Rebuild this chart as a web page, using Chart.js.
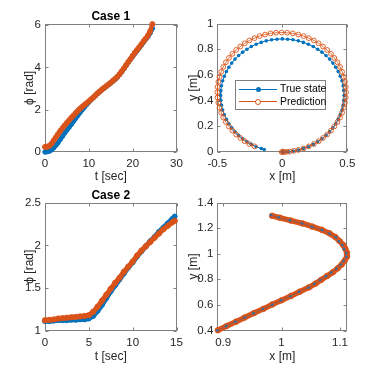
<!DOCTYPE html>
<html><head><meta charset="utf-8">
<script src="https://cdn.jsdelivr.net/npm/chart.js@4.4.1/dist/chart.umd.min.js"></script>
<style>
html,body{margin:0;padding:0;background:#fff;}
#wrap{position:relative;width:383px;height:371px;overflow:hidden;background:#fff;}
#wrap canvas{position:absolute;left:0;top:0;}
#legend{position:absolute;left:235px;top:80px;width:89px;height:28px;border:1px solid #808080;background:#fff;font-family:'Liberation Sans',Arial,sans-serif;font-size:10.4px;color:#000;z-index:5;}
.row{position:absolute;left:0;height:12px;width:89px;}
.ln{position:absolute;left:3px;width:38px;top:5.5px;height:1px;}
.mk{position:absolute;box-sizing:border-box;border-radius:50%;}
.tx{position:absolute;left:44px;top:0;line-height:12px;white-space:nowrap;}
</style></head>
<body>
<div id="wrap">
<canvas id="c1" width="383" height="371"></canvas>
<canvas id="c2" width="383" height="371"></canvas>
<canvas id="c3" width="383" height="371"></canvas>
<canvas id="c4" width="383" height="371"></canvas>
<div id="legend">
  <div class="row" style="top:2.3px"><div class="ln" style="background:#0072BD"></div><div class="mk" style="left:19.5px;top:3.5px;width:5px;height:5px;background:#0072BD"></div><div class="tx" id="lg1"></div></div>
  <div class="row" style="top:14.7px"><div class="ln" style="background:#D95319"></div><div class="mk" style="left:19px;top:3px;width:6px;height:6px;border:1px solid #D95319;background:#fff"></div><div class="tx" id="lg2"></div></div>
</div>
</div>
<script>
// ---------- data ----------
const seriesNames = ['True state', 'Prediction'];
const titles = ['Case 1', 'Case 2'];

// Case 1: heading vs time
const t1 = [0,0.5,1,1.5,2,2.5,3,3.5,4,4.5,5,5.5,6,6.5,7,7.5,8,8.5,9,9.5,10,10.5,11,11.5,12,12.5,13,13.5,14,14.5,15,15.5,16,16.5,17,17.5,18,18.5,19,19.5,20,20.5,21,21.5,22,22.5,23,23.5,24,24.5];
const phiTrue1 = [0.00,0.01,0.04,0.10,0.20,0.32,0.45,0.60,0.75,0.90,1.04,1.17,1.31,1.45,1.59,1.73,1.87,2.00,2.12,2.24,2.35,2.46,2.56,2.66,2.76,2.85,2.94,3.02,3.10,3.18,3.26,3.35,3.44,3.54,3.66,3.80,3.94,4.09,4.24,4.38,4.52,4.66,4.79,4.92,5.06,5.20,5.33,5.47,5.63,5.85];
const phiPred1 = [0.24,0.25,0.29,0.40,0.55,0.70,0.85,1.00,1.13,1.26,1.38,1.50,1.62,1.73,1.84,1.95,2.05,2.14,2.23,2.31,2.40,2.49,2.58,2.68,2.78,2.87,2.96,3.04,3.12,3.20,3.28,3.37,3.46,3.56,3.68,3.82,3.96,4.11,4.26,4.40,4.55,4.70,4.83,4.96,5.10,5.24,5.37,5.52,5.72,6.05];

// Case 1: x-y path
const xTrue1 = [0,0.008,0.025,0.050,0.082,0.123,0.162,0.201,0.238,0.272,0.305,0.336,0.364,0.389,0.411,0.430,0.446,0.459,0.468,0.473,0.475,0.473,0.468,0.459,0.446,0.430,0.411,0.389,0.364,0.336,0.305,0.272,0.238,0.201,0.162,0.123,0.082,0.041,0,-0.041,-0.082,-0.123,-0.162,-0.201,-0.238,-0.272,-0.305,-0.336,-0.364,-0.389,-0.411,-0.430,-0.446,-0.459,-0.468,-0.473,-0.475,-0.473,-0.468,-0.459,-0.446,-0.430,-0.411,-0.389,-0.364,-0.336,-0.305,-0.272,-0.238,-0.201,-0.162,-0.139];
const yTrue1 = [0,0.000,0.001,0.002,0.007,0.015,0.027,0.041,0.059,0.080,0.103,0.129,0.157,0.188,0.220,0.254,0.290,0.326,0.364,0.402,0.440,0.478,0.516,0.554,0.590,0.626,0.660,0.692,0.723,0.751,0.777,0.800,0.821,0.839,0.853,0.865,0.873,0.878,0.880,0.878,0.873,0.865,0.853,0.839,0.821,0.800,0.777,0.751,0.723,0.692,0.660,0.626,0.590,0.554,0.516,0.478,0.440,0.402,0.364,0.326,0.290,0.254,0.220,0.188,0.157,0.129,0.103,0.080,0.059,0.041,0.027,0.019];
const xPred1 = [-0.005,0.004,0.012,0.030,0.055,0.089,0.123,0.164,0.204,0.243,0.279,0.313,0.345,0.374,0.400,0.424,0.444,0.460,0.473,0.482,0.488,0.490,0.488,0.482,0.473,0.460,0.444,0.424,0.400,0.374,0.345,0.313,0.279,0.243,0.204,0.164,0.123,0.081,0.038,-0.005,-0.048,-0.091,-0.133,-0.174,-0.214,-0.253,-0.289,-0.323,-0.355,-0.384,-0.410,-0.434,-0.454,-0.470,-0.483,-0.492,-0.498,-0.500,-0.498,-0.492,-0.483,-0.470,-0.454,-0.434,-0.410,-0.384,-0.355,-0.323,-0.289,-0.253,-0.214];
const yPred1 = [0,0.000,0.000,0.001,0.003,0.009,0.016,0.028,0.044,0.062,0.084,0.109,0.136,0.166,0.198,0.233,0.268,0.306,0.345,0.384,0.424,0.465,0.506,0.546,0.585,0.624,0.662,0.698,0.732,0.764,0.794,0.821,0.846,0.868,0.886,0.902,0.914,0.923,0.928,0.930,0.928,0.923,0.914,0.902,0.886,0.868,0.846,0.821,0.794,0.764,0.732,0.698,0.662,0.624,0.585,0.546,0.506,0.465,0.424,0.384,0.345,0.306,0.268,0.233,0.198,0.166,0.136,0.109,0.084,0.062,0.044];

// Case 2: heading vs time
const t2 = [0,0.5,1,1.5,2,2.5,3,3.5,4,4.5,5,5.5,6,6.5,7,7.5,8,8.5,9,9.5,10,10.5,11,11.5,12,12.5,13,13.5,14,14.5,14.8];
const phiTrue2 = [1.11,1.11,1.115,1.12,1.12,1.12,1.125,1.125,1.13,1.13,1.14,1.17,1.23,1.30,1.38,1.46,1.53,1.60,1.67,1.74,1.80,1.87,1.93,1.99,2.05,2.10,2.16,2.21,2.26,2.31,2.34];
const phiPred2 = [1.12,1.125,1.13,1.14,1.145,1.15,1.155,1.16,1.165,1.17,1.18,1.22,1.28,1.35,1.42,1.49,1.56,1.62,1.69,1.75,1.81,1.88,1.94,1.99,2.04,2.09,2.14,2.19,2.23,2.27,2.29];

// Case 2: x-y path
const xTrue2 = [0.890,0.905,0.921,0.937,0.952,0.968,0.984,0.999,1.015,1.030,1.046,1.056,1.066,1.076,1.085,1.094,1.101,1.106,1.111,1.111,1.107,1.104,1.098,1.093,1.082,1.069,1.052,1.035,1.014,0.995,0.982];
const yTrue2 = [0.400,0.434,0.467,0.501,0.534,0.568,0.601,0.635,0.668,0.702,0.735,0.764,0.794,0.823,0.853,0.883,0.913,0.943,0.974,1.005,1.036,1.067,1.097,1.128,1.157,1.185,1.210,1.236,1.260,1.284,1.300];
const xPred2 = [0.891,0.906,0.922,0.937,0.953,0.969,0.984,1.000,1.016,1.031,1.047,1.058,1.068,1.078,1.088,1.096,1.103,1.108,1.112,1.112,1.109,1.105,1.099,1.092,1.082,1.069,1.053,1.036,1.016,0.997,0.984];
const yPred2 = [0.402,0.435,0.469,0.502,0.536,0.569,0.603,0.636,0.670,0.703,0.737,0.766,0.796,0.826,0.856,0.886,0.916,0.946,0.977,1.008,1.039,1.070,1.100,1.130,1.159,1.186,1.211,1.236,1.259,1.281,1.296];

// tick labels
const xTicksA = [0,10,20,30],  yTicksA = [0,2,4,6];
const xTicksB = [-0.5,0,0.5],  yTicksB = [0,0.2,0.4,0.6,0.8,1];
const xTicksC = [0,5,10,15],   yTicksC = [1,1.5,2,2.5];
const xTicksD = [0.9,1,1.1],   yTicksD = [0.4,0.6,0.8,1,1.2,1.4];

// ---------- rendering ----------
const BLUE = '#0072BD', ORANGE = '#D95319';
const FONT = "'Liberation Sans', Arial, Helvetica, sans-serif";
const AXC = '#262626', BOXC = '#808080';
document.getElementById('lg1').textContent = seriesNames[0];
document.getElementById('lg2').textContent = seriesNames[1];
const pts = (xs, ys) => xs.map((x, i) => ({x: x, y: ys[i]}));
const fmt = v => String(+Number(v).toFixed(4));

const boxPlugin = {
  id: 'matlabBox',
  beforeDatasetsDraw(chart) {
    const ctx = chart.ctx, a = chart.chartArea;
    const L = Math.round(a.left) + 0.5, R = Math.round(a.right) - 0.5;
    const T = Math.round(a.top) + 0.5, B = Math.round(a.bottom) - 0.5;
    ctx.save();
    ctx.strokeStyle = BOXC; ctx.lineWidth = 1;
    ctx.strokeRect(L, T, R - L, B - T);
    const tl = 3;
    ctx.beginPath();
    chart.scales.x.ticks.forEach(tk => {
      const p = Math.round(chart.scales.x.getPixelForValue(tk.value)) + 0.5;
      ctx.moveTo(p, B); ctx.lineTo(p, B - tl);
      ctx.moveTo(p, T); ctx.lineTo(p, T + tl);
    });
    chart.scales.y.ticks.forEach(tk => {
      const p = Math.round(chart.scales.y.getPixelForValue(tk.value)) + 0.5;
      ctx.moveTo(L, p); ctx.lineTo(L + tl, p);
      ctx.moveTo(R, p); ctx.lineTo(R - tl, p);
    });
    ctx.stroke();
    ctx.restore();
  }
};

function makeChart(id, o) {
  return new Chart(document.getElementById(id), {
    type: 'scatter',
    data: { datasets: o.datasets },
    plugins: [boxPlugin],
    options: {
      responsive: false, animation: false, events: [],
      devicePixelRatio: 1,
      layout: { padding: o.pad },
      plugins: {
        legend: { display: false },
        tooltip: { enabled: false },
        title: o.title ? {
          display: true, text: o.title, color: '#000', fullSize: false,
          font: { family: FONT, size: 12, weight: 'bold', lineHeight: 1.2 },
          padding: o.titlePad
        } : { display: false }
      },
      scales: {
        x: {
          type: 'linear', min: o.xMin, max: o.xMax,
          afterBuildTicks: s => { s.ticks = o.xTicks.map(v => ({value: v})); },
          afterFit: s => { s.height = o.xH; },
          grid: { display: false, drawTicks: false, tickLength: 0 }, border: { display: false },
          ticks: { font: { family: FONT, size: 11.5 }, color: AXC, padding: 5, maxRotation: 0, autoSkip: false, callback: v => fmt(v) },
          title: { display: true, text: o.xLabel, color: AXC, font: { family: FONT, size: 12, lineHeight: 1.2 }, padding: { top: 0, bottom: o.xTitlePad } }
        },
        y: {
          type: 'linear', min: o.yMin, max: o.yMax,
          afterBuildTicks: s => { s.ticks = o.yTicks.map(v => ({value: v})); },
          afterFit: s => { s.width = o.yW; },
          grid: { display: false, drawTicks: false, tickLength: 0 }, border: { display: false },
          ticks: { font: { family: FONT, size: 11.5 }, color: AXC, padding: 4, autoSkip: false, callback: v => fmt(v) },
          title: { display: true, text: o.yLabel, color: AXC, font: { family: FONT, size: 12, lineHeight: 1.2 }, padding: { top: o.yTitlePad, bottom: 0 } }
        }
      }
    }
  });
}

const band = (data, color, order, w, r, hollow) => ({
  data: data, showLine: true, order: order, clip: false,
  borderColor: color, borderWidth: w, borderCapStyle: 'round', borderJoinStyle: 'round',
  pointRadius: r, pointBorderWidth: 1, pointBorderColor: color,
  pointBackgroundColor: hollow ? 'rgba(255,255,255,0)' : color
});

// top-left: Case 1 heading
makeChart('c1', {
  title: titles[0], titlePad: { top: 9.2, bottom: 0.1 },
  pad: { left: 0, top: 0, right: 206.5, bottom: 186 },
  xH: 33, yW: 45, xTitlePad: 1.2, yTitlePad: 22.8,
  xMin: 0, xMax: 30, yMin: 0, yMax: 6.07, xTicks: xTicksA, yTicks: yTicksA,
  xLabel: 't [sec]', yLabel: 'ϕ [rad]',
  datasets: [
    band(pts(t1, phiTrue1), BLUE, 1, 4.5, 2.2, false),
    band(pts(t1, phiPred1), ORANGE, 0, 4.5, 2.6, true)
  ]
});

// top-right: Case 1 path
makeChart('c2', {
  pad: { left: 180, top: 23.5, right: 35.7, bottom: 186 },
  xH: 33, yW: 37.3, xTitlePad: 1.2, yTitlePad: 6.8,
  xMin: -0.5, xMax: 0.5, yMin: 0, yMax: 1, xTicks: xTicksB, yTicks: yTicksB,
  xLabel: 'x [m]', yLabel: 'y [m]',
  datasets: [
    { data: pts(xTrue1, yTrue1), showLine: true, order: 1, clip: false, borderColor: BLUE, borderWidth: 1,
      pointRadius: 1.8, pointBorderWidth: 0, pointBackgroundColor: BLUE },
    { data: pts(xPred1, yPred1), showLine: true, order: 0, clip: false, borderColor: ORANGE, borderWidth: 0.8,
      pointRadius: 2.4, pointBorderWidth: 0.9, pointBorderColor: ORANGE, pointBackgroundColor: 'rgba(255,255,255,0)' }
  ]
});

// bottom-left: Case 2 heading
makeChart('c3', {
  title: titles[1], titlePad: { top: 3.5, bottom: 0 },
  pad: { left: 0, top: 185, right: 206.5, bottom: 0 },
  xH: 40.5, yW: 45, xTitlePad: 7.1, yTitlePad: 22.8,
  xMin: 0, xMax: 15, yMin: 1, yMax: 2.5, xTicks: xTicksC, yTicks: yTicksC,
  xLabel: 't [sec]', yLabel: 'ϕ [rad]',
  datasets: [
    band(pts(t2, phiTrue2), BLUE, 1, 5, 2.4, false),
    band(pts(t2, phiPred2), ORANGE, 0, 5, 2.7, true)
  ]
});

// bottom-right: Case 2 path
makeChart('c4', {
  pad: { left: 180, top: 202.5, right: 35.7, bottom: 0 },
  xH: 40.5, yW: 37.3, xTitlePad: 7.1, yTitlePad: 6.8,
  xMin: 0.89, xMax: 1.1125, yMin: 0.4, yMax: 1.4, xTicks: xTicksD, yTicks: yTicksD,
  xLabel: 'x [m]', yLabel: 'y [m]',
  datasets: [
    { data: pts(xTrue2, yTrue2), showLine: true, order: 0, clip: false, borderColor: 'rgba(0,114,189,0.35)', borderWidth: 1,
      pointRadius: 1.3, pointBorderWidth: 0, pointBackgroundColor: '#2f6fa8' },
    band(pts(xPred2, yPred2), ORANGE, 1, 5.5, 2.8, true)
  ]
});
</script>
</body></html>
